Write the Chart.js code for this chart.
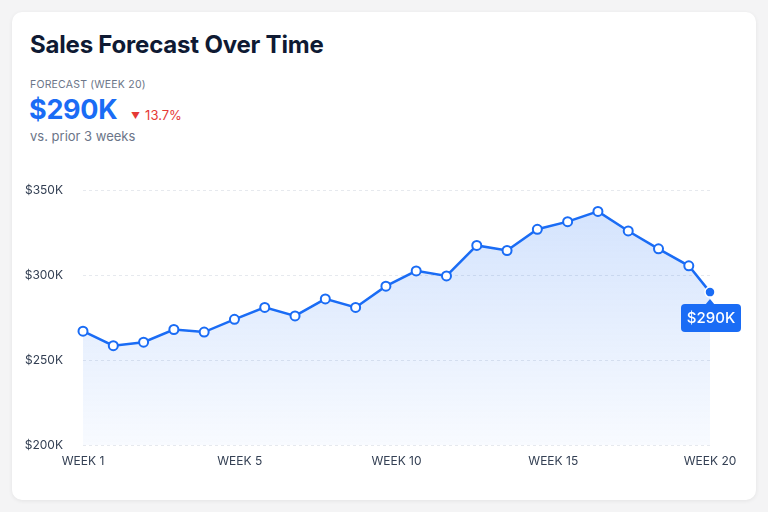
<!DOCTYPE html>
<html>
<head>
<meta charset="utf-8">
<script src="https://cdn.jsdelivr.net/npm/chart.js@4.4.1/dist/chart.umd.min.js"></script>
<style>
  html,body{margin:0;padding:0;}
  body{width:768px;height:512px;background:#f4f4f5;font-family:Inter,"Noto Sans",sans-serif;position:relative;overflow:hidden;}
  .card{position:absolute;left:12px;top:12px;width:744px;height:488px;background:#fff;border-radius:10px;box-shadow:0 1px 4px rgba(0,0,0,0.07);}
  .title{position:absolute;left:30px;top:30px;font-size:24px;font-weight:700;color:#0f1a33;letter-spacing:-0.2px;}
  .kicker{position:absolute;left:30px;top:78px;font-size:10.5px;color:#6b7588;letter-spacing:0.2px;}
  .big{position:absolute;left:29px;top:93px;font-size:27px;font-weight:700;color:#1a6cf5;letter-spacing:-0.3px;}
  .delta{position:absolute;left:131px;top:107px;font-size:13px;color:#e53935;}
  .delta .tri{font-size:9px;position:relative;top:-1px;margin-right:5px;}
  .sub{position:absolute;left:30px;top:128px;font-size:13px;color:#6b7588;}
  #wrap{position:absolute;left:0;top:163px;width:768px;height:317px;}
</style>
</head>
<body>
<div class="card"></div>
<div class="title">Sales Forecast Over Time</div>
<div class="kicker">FORECAST (WEEK 20)</div>
<div class="big" id="big">$290K</div>
<div class="delta"><span class="tri">▼</span>13.7%</div>
<div class="sub">vs. prior 3 weeks</div>
<div id="wrap"><canvas id="c"></canvas></div>
<script>
// Data
const weekPos = [0, 1, 2, 3, 4, 5, 6, 7, 8, 9, 10, 11, 12, 13, 14, 15, 16, 17, 18, 19, 20, 20.7];
const sales = [267, 258.5, 260.5, 268, 266.5, 274, 281, 276, 286, 281, 293.5, 302.5, 299.5, 317.5, 314.5, 327, 331.5, 337.5, 326, 315.5, 305.5, 290];
const yTickValues = [200, 250, 300, 350];
const xTickLabels = ['WEEK 1', 'WEEK 5', 'WEEK 10', 'WEEK 15', 'WEEK 20'];

const BLUE = '#1a6cf5';
const lastIdx = sales.length - 1;

const calloutPlugin = {
  id: 'callout',
  afterDatasetsDraw(chart) {
    const meta = chart.getDatasetMeta(0);
    const pt = meta.data[lastIdx];
    if (!pt) return;
    const ctx = chart.ctx;
    const x = pt.x, y = pt.y;
    const text = '$' + sales[lastIdx] + 'K';
    ctx.save();
    ctx.font = '500 15px Inter, "Noto Sans", sans-serif';
    const w = 60;
    const h = 28;
    const top = y + 12;
    ctx.fillStyle = BLUE;
    ctx.beginPath();
    ctx.moveTo(x - 5, top + 1);
    ctx.lineTo(x, top - 5);
    ctx.lineTo(x + 5, top + 1);
    ctx.closePath();
    ctx.fill();
    ctx.beginPath();
    ctx.roundRect(x - 29, top, w, h, 4);
    ctx.fill();
    ctx.fillStyle = '#ffffff';
    ctx.textAlign = 'center';
    ctx.textBaseline = 'middle';
    ctx.fillText(text, x + 1, top + h / 2 + 0.5);
    ctx.restore();
  }
};

new Chart(document.getElementById('c'), {
  type: 'line',
  data: {
    datasets: [{
      data: weekPos.map((w, i) => ({ x: w, y: sales[i] })),
      borderColor: BLUE,
      borderWidth: 2.5,
      tension: 0,
      clip: false,
      fill: 'start',
      backgroundColor: (ctx) => {
        const ca = ctx.chart.chartArea;
        if (!ca) return 'rgba(26,108,245,0.12)';
        const g = ctx.chart.ctx.createLinearGradient(0, ca.top, 0, ca.bottom);
        g.addColorStop(0, 'rgba(26,108,245,0.20)');
        g.addColorStop(1, 'rgba(26,108,245,0.03)');
        return g;
      },
      pointRadius: (c) => c.dataIndex === lastIdx ? 5 : 4.5,
      pointBackgroundColor: (c) => c.dataIndex === lastIdx ? BLUE : '#ffffff',
      pointBorderColor: (c) => c.dataIndex === lastIdx ? '#ffffff' : BLUE,
      pointBorderWidth: (c) => c.dataIndex === lastIdx ? 1.5 : 2,
      pointHoverRadius: 5
    }]
  },
  options: {
    responsive: true,
    maintainAspectRatio: false,
    animation: false,
    layout: { padding: { left: 0, right: 58, top: 10, bottom: 0 } },
    plugins: { legend: { display: false }, tooltip: { enabled: false } },
    scales: {
      x: {
        type: 'linear',
        min: weekPos[0],
        max: weekPos[lastIdx],
        grid: { display: false, drawTicks: false },
        border: { display: false },
        afterBuildTicks: (scale) => {
          const n = xTickLabels.length;
          const step = (scale.max - scale.min) / (n - 1);
          scale.ticks = xTickLabels.map((_, i) => ({ value: scale.min + i * step }));
        },
        afterFit: (scale) => { scale.height = 35; },
        ticks: {
          autoSkip: false,
          maxRotation: 0,
          padding: 9,
          color: '#344054',
          font: { size: 12, family: 'Inter, "Noto Sans", sans-serif' },
          callback: (v, i) => xTickLabels[i]
        }
      },
      y: {
        min: yTickValues[0],
        max: yTickValues[yTickValues.length - 1],
        afterBuildTicks: (scale) => { scale.ticks = yTickValues.map(v => ({ value: v })); },
        afterFit: (scale) => { scale.width = 83; },
        grid: { color: '#e6e9ee', drawTicks: false, lineWidth: 1 },
        border: { display: false, dash: [3, 3] },
        ticks: {
          padding: 20,
          color: '#344054',
          font: { size: 12, family: 'Inter, "Noto Sans", sans-serif' },
          callback: (v) => '$' + v + 'K'
        }
      }
    }
  },
  plugins: [calloutPlugin]
});
</script>
</body>
</html>
